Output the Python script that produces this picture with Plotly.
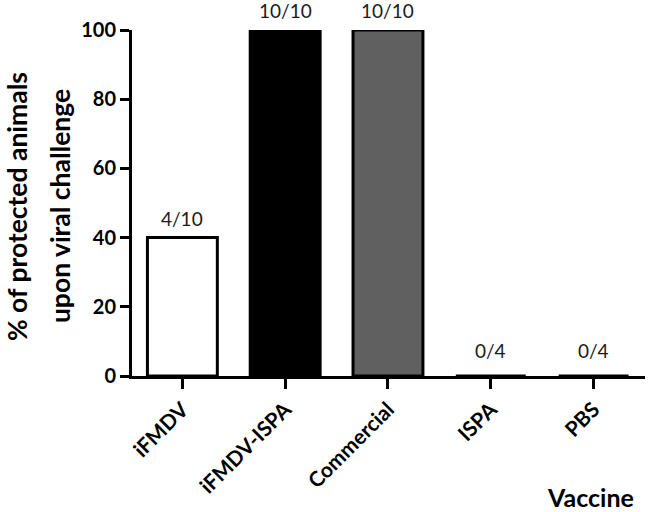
import plotly.graph_objects as go

categories = ["iFMDV", "iFMDV-ISPA", "Commercial", "ISPA", "PBS"]
protected_pct = [40, 100, 100, 0, 0]
labels = ["4/10", "10/10", "10/10", "0/4", "0/4"]
fill_colors = ["#ffffff", "#000000", "#606060", "#000000", "#000000"]
y_ticks = [0, 20, 40, 60, 80, 100]
y_title_lines = ["% of protected animals", "upon viral challenge"]
x_title = "Vaccine"

FONT = "Lato"

fig = go.Figure()
fig.add_trace(go.Bar(
    x=categories, y=protected_pct, width=0.68,
    marker=dict(color=fill_colors, line=dict(color="#000000", width=3)),
    showlegend=False, hoverinfo="skip",
))

for c, v, t in zip(categories, protected_pct, labels):
    fig.add_annotation(x=c, y=v, text=t, showarrow=False, yanchor="bottom",
                       yshift=(12 if v == 0 else 6),
                       font=dict(family=FONT, size=19, color="#1a1a1a"))

fig.update_layout(
    width=653, height=512,
    margin=dict(l=132, r=8, t=30, b=136),
    plot_bgcolor="white", paper_bgcolor="white",
    xaxis=dict(
        range=[-0.49, 4.5], showline=True, linecolor="black", linewidth=3,
        ticks="outside", ticklen=10, tickwidth=3, tickcolor="black",
        tickangle=-45, showgrid=False, zeroline=False,
        tickfont=dict(family=FONT, size=21, color="black", weight="bold"),
    ),
    yaxis=dict(
        range=[0, 100], tickvals=y_ticks, showline=True, linecolor="black", linewidth=3,
        ticks="outside", ticklen=9, tickwidth=3, tickcolor="black",
        showgrid=False, zeroline=False,
        tickfont=dict(family=FONT, size=20, color="black", weight="bold"),
    ),
)

for xp, line in zip([-0.2242, -0.1404], y_title_lines):
    fig.add_annotation(text=line, xref="paper", yref="paper", x=xp, y=0.491,
                       xanchor="center", yanchor="middle", textangle=-90,
                       showarrow=False,
                       font=dict(family=FONT, size=26.5, color="black", weight="bold"))

fig.add_annotation(text=x_title, xref="paper", yref="paper", x=0.893, y=-0.35,
                   xanchor="center", yanchor="middle", showarrow=False,
                   font=dict(family=FONT, size=25, color="black", weight="bold"))

fig.write_html("out.html", config={"displayModeBar": False},
               post_script="document.body.style.margin='0';document.body.style.overflow='hidden';")
